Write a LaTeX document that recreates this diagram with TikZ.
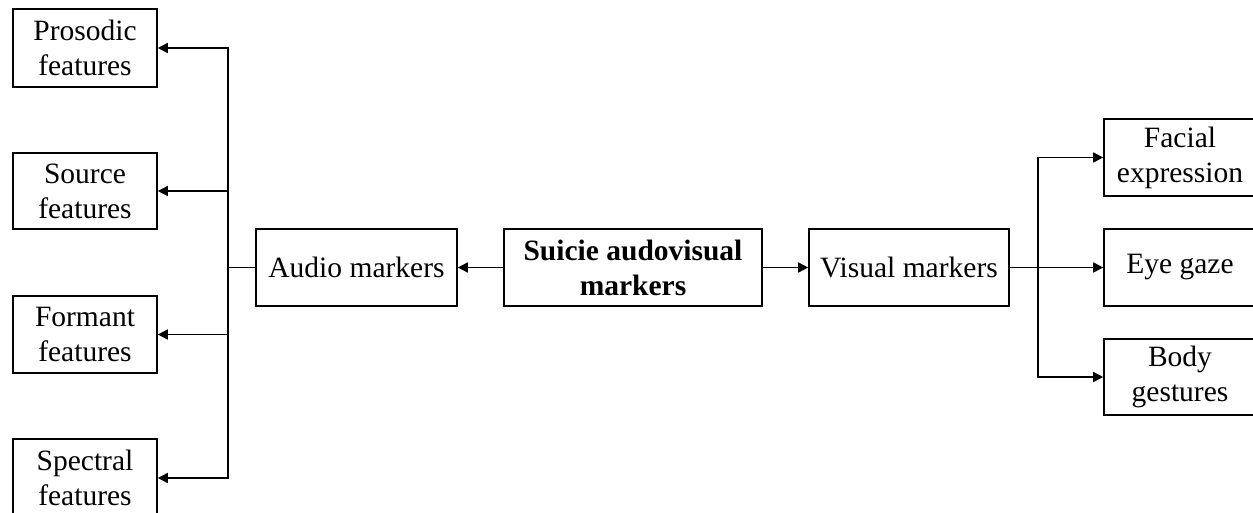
\documentclass[tikz,border=0pt]{standalone}
\usepackage{fontspec}
\setmainfont{Liberation Serif}
\usetikzlibrary{arrows.meta}
\tikzset{
  box/.style={draw=black, line width=1.6pt, align=center, inner sep=0pt,
    font=\fontsize{29.5}{35}\selectfont, text=black},
  conn/.style={draw=black, line width=1.6pt},
  arr/.style={conn, -{Triangle[length=10pt,width=10pt]}}
}
\begin{document}
\begin{tikzpicture}[x=1pt,y=-1pt]
\useasboundingbox (0,0) rectangle (1253,512);
\fill[white] (0,0) rectangle (1253,512);
\clip (0,0) rectangle (1253,512);
% left column
\node[box, minimum width=144pt, minimum height=78pt] (prosodic) at (85,48) {Prosodic\\features};
\node[box, minimum width=144pt, minimum height=76pt] (source) at (85,191) {Source\\features};
\node[box, minimum width=144pt, minimum height=77pt] (formant) at (85,334.5) {Formant\\features};
\node[box, minimum width=144pt, minimum height=78pt] (spectral) at (85,478) {Spectral\\features};
% middle row
\node[box, minimum width=201pt, minimum height=77pt] (audio) at (356.5,267.5) {Audio markers};
\node[box, minimum width=258pt, minimum height=77pt] (suicie) at (633,267.5) {\bfseries Suicie audovisual\\\bfseries markers};
\node[box, minimum width=200pt, minimum height=77pt] (visual) at (909,267.5) {Visual markers};
% right column
\node[box, minimum width=152pt, minimum height=77pt] (facial) at (1180,157.5) {Facial\\expression};
\node[box, minimum width=152pt, minimum height=77pt] (eye) at (1180,267.5) {Eye gaze};
\node[box, minimum width=152pt, minimum height=76pt] (body) at (1180,377) {Body\\gestures};
% junctions
\coordinate (ja) at (228,267.5);
\coordinate (jv) at (1038,267.5);
% connectors
\draw[arr] (suicie.west) -- (audio.east);
\draw[arr] (suicie.east) -- (visual.west);
\draw[conn] (audio.west) -- (ja);
\draw[arr] (ja) |- (prosodic.east);
\draw[arr] (ja) |- (source.east);
\draw[arr] (ja) |- (formant.east);
\draw[arr] (ja) |- (spectral.east);
\draw[conn] (visual.east) -- (jv);
\draw[arr] (jv) |- (facial.west);
\draw[arr] (jv) -- (eye.west);
\draw[arr] (jv) |- (body.west);
\end{tikzpicture}
\end{document}
